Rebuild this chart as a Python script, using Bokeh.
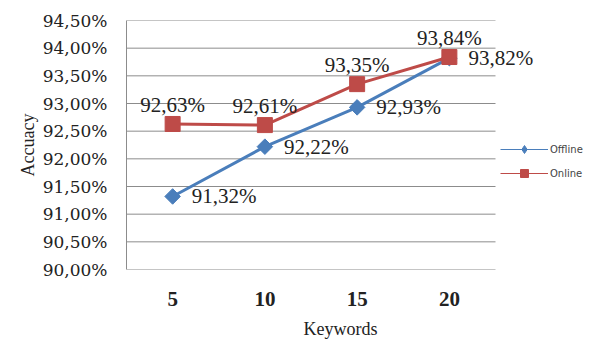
import math
from bokeh.plotting import figure
from bokeh.models import (ColumnDataSource, FixedTicker, LabelSet, Legend, LegendItem, Range1d, Title)
from bokeh.embed import file_html
from bokeh.resources import INLINE

keywords = [5, 10, 15, 20]
offline = [91.32, 92.22, 92.93, 93.82]
online = [92.63, 92.61, 93.35, 93.84]
y_ticks = [90.0, 90.5, 91.0, 91.5, 92.0, 92.5, 93.0, 93.5, 94.0, 94.5]

def pct(v):
    return f"{v:.2f}%".replace(".", ",")

src = ColumnDataSource(dict(
    x=keywords,
    off=offline,
    on=online,
    off_lbl=[pct(v) for v in offline],
    on_lbl=[pct(v) for v in online],
))

BLUE = "#4A7EBB"
RED = "#BE4B48"
GRID = "#8C8C8C"

# layout constants: plotted x extent (grid area) and the extra room at right for
# the outside labels / legend
W, H = 592, 346
LEFT, TOP, BOTTOM = 126, 20, 76
GRID_LO, GRID_HI = 2.5, 22.5
GRID_PX = 369
x_end = GRID_LO + (GRID_HI - GRID_LO) * (W - LEFT) / GRID_PX

p = figure(width=W, height=H, output_backend="svg", toolbar_location=None,
           x_range=Range1d(GRID_LO, x_end), y_range=Range1d(y_ticks[0], y_ticks[-1]),
           min_border_left=LEFT, min_border_right=0, min_border_top=TOP,
           min_border_bottom=BOTTOM)
p.outline_line_color = None
p.background_fill_color = "white"
p.border_fill_color = "white"

# axes
p.xaxis.ticker = FixedTicker(ticks=keywords)
p.xaxis.axis_line_color = None
p.xaxis.major_tick_line_color = None
p.xaxis.minor_tick_line_color = None
p.xaxis.major_tick_out = 0
p.xaxis.major_label_standoff = 22
p.xaxis.major_label_text_font = "Liberation Serif"
p.xaxis.major_label_text_font_style = "bold"
p.xaxis.major_label_text_font_size = "21px"
p.xaxis.major_label_text_color = "#222222"

p.yaxis.ticker = FixedTicker(ticks=y_ticks)
p.yaxis.major_label_overrides = {t: pct(t) for t in y_ticks}
p.yaxis.axis_line_color = GRID
p.yaxis.major_tick_line_color = None
p.yaxis.minor_tick_line_color = None
p.yaxis.major_tick_out = 0
p.yaxis.major_label_standoff = 19
p.yaxis.major_label_text_font = "DejaVu Serif"
p.yaxis.major_label_text_font_size = "17px"
p.yaxis.major_label_text_color = "#222222"

p.xgrid.grid_line_color = None
p.ygrid.grid_line_color = None
# horizontal grid lines limited to the plotted category area
p.segment(x0=[GRID_LO] * len(y_ticks), x1=[GRID_HI] * len(y_ticks), y0=y_ticks, y1=y_ticks,
          line_color=GRID, line_width=1)

# data
p.line("x", "off", source=src, line_color=BLUE, line_width=3)
p.scatter("x", "off", source=src, marker="square", angle=math.pi / 4, size=11,
          fill_color=BLUE, line_color=BLUE)
p.line("x", "on", source=src, line_color=RED, line_width=3)
p.scatter("x", "on", source=src, marker="square", size=15, fill_color=RED, line_color=RED)

# legend-only renderers (thin lines, small markers)
lo1 = p.line("x", "off", source=src, line_color=BLUE, line_width=1, visible=False)
lo2 = p.scatter("x", "off", source=src, marker="diamond", size=8,
                fill_color=BLUE, line_color=BLUE, visible=False)
ln1 = p.line("x", "on", source=src, line_color=RED, line_width=1, visible=False)
ln2 = p.scatter("x", "on", source=src, marker="square", size=7,
                fill_color=RED, line_color=RED, visible=False)

legend = Legend(items=[LegendItem(label="Offline", renderers=[lo1, lo2]),
                       LegendItem(label="Online", renderers=[ln1, ln2])],
                location=(374, 86), glyph_width=48, glyph_height=20, label_height=20,
                spacing=4, padding=2, margin=0, label_standoff=2,
                label_text_font="DejaVu Sans", label_text_font_size="10px",
                border_line_color=None, background_fill_alpha=0)
p.add_layout(legend, "center")

# data labels
p.add_layout(LabelSet(x="x", y="on", text="on_lbl", source=src, text_align="center",
                      text_baseline="middle", y_offset=19, text_font="DejaVu Sans",
                      text_font_size="21px", text_color="#222222"))
p.add_layout(LabelSet(x="x", y="off", text="off_lbl", source=src, text_align="left",
                      text_baseline="middle", x_offset=19, text_font="DejaVu Sans",
                      text_font_size="21px", text_color="#222222"))

# axis titles
p.add_layout(Title(text="Keywords", align="left", offset=177, standoff=16,
                   text_font="Liberation Serif", text_font_size="18px",
                   text_font_style="normal", text_color="#222222"), "below")
p.add_layout(Title(text="Accuacy", align="center", offset=22, standoff=4,
                   text_font="Liberation Serif", text_font_size="18px",
                   text_font_style="normal", text_color="#222222"), "left")

open("out.html", "w").write(file_html(p, INLINE))
